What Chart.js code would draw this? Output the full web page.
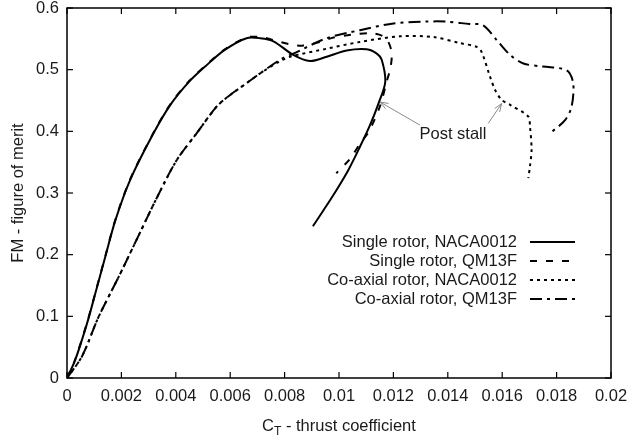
<!DOCTYPE html>
<html>
<head>
<meta charset="utf-8">
<script src="https://cdn.jsdelivr.net/npm/chart.js@4.4.1/dist/chart.umd.min.js"></script>
<style>
  html, body { margin: 0; padding: 0; background: #fff; }
  #wrap { width: 628px; height: 441px; position: relative; }
</style>
</head>
<body>
<div id="wrap"><canvas id="fmChart"></canvas></div>
<script>
// figure of merit vs thrust coefficient
const seriesLabels = ['Single rotor, NACA0012', 'Single rotor, QM13F', 'Co-axial rotor, NACA0012', 'Co-axial rotor, QM13F'];

const singleNacaCt = [0, 0.0003, 0.00074, 0.00104, 0.00141, 0.00178, 0.00232, 0.00317, 0.0038, 0.0045, 0.0051, 0.0058, 0.0066, 0.0071, 0.00759, 0.00832, 0.00893, 0.00955, 0.01028, 0.01102, 0.01139, 0.01157, 0.0117, 0.01145, 0.01114, 0.01077, 0.01034, 0.00991, 0.00943, 0.00904];
const singleNacaFm = [0, 0.029, 0.089, 0.137, 0.197, 0.256, 0.321, 0.396, 0.443, 0.481, 0.506, 0.532, 0.551, 0.551, 0.546, 0.524, 0.514, 0.521, 0.531, 0.533, 0.526, 0.516, 0.48, 0.445, 0.41, 0.375, 0.337, 0.305, 0.272, 0.246];

const singleQmCt = [0, 0.0003, 0.00074, 0.00104, 0.00141, 0.00178, 0.00232, 0.00317, 0.0038, 0.0045, 0.0051, 0.0058, 0.0066, 0.0071, 0.0076, 0.0082, 0.0087, 0.0093, 0.0098, 0.0105, 0.0112, 0.0117, 0.01193, 0.0119, 0.01175, 0.0115, 0.0111, 0.01077, 0.0104, 0.0099];
const singleQmFm = [0, 0.03, 0.09, 0.138, 0.198, 0.257, 0.322, 0.397, 0.444, 0.482, 0.507, 0.533, 0.552, 0.553, 0.548, 0.541, 0.539, 0.545, 0.552, 0.557, 0.559, 0.552, 0.53, 0.505, 0.48, 0.44, 0.4, 0.38, 0.355, 0.332];

const coaxNacaCt = [0, 0.00055, 0.00116, 0.0019, 0.0026, 0.0033, 0.00403, 0.00477, 0.0055, 0.006, 0.0066, 0.0071, 0.0078, 0.0082, 0.00955, 0.01077, 0.01224, 0.01347, 0.01445, 0.01506, 0.01524, 0.01555, 0.01574, 0.01598, 0.01629, 0.01696, 0.01702, 0.01708, 0.01702, 0.01696];
const coaxNacaFm = [0, 0.035, 0.099, 0.164, 0.228, 0.292, 0.353, 0.397, 0.44, 0.459, 0.478, 0.494, 0.513, 0.521, 0.534, 0.545, 0.554, 0.553, 0.543, 0.537, 0.529, 0.489, 0.467, 0.451, 0.443, 0.424, 0.408, 0.37, 0.343, 0.324];

const coaxQmCt = [0, 0.00055, 0.00116, 0.0019, 0.0026, 0.0033, 0.00403, 0.00477, 0.0055, 0.006, 0.0066, 0.0071, 0.0079, 0.00832, 0.00955, 0.01077, 0.012, 0.0132, 0.0139, 0.0148, 0.0153, 0.0158, 0.01629, 0.01678, 0.0175, 0.01837, 0.01861, 0.01855, 0.01831, 0.01782];
const coaxQmFm = [0, 0.035, 0.099, 0.164, 0.228, 0.292, 0.353, 0.397, 0.44, 0.459, 0.478, 0.494, 0.518, 0.526, 0.551, 0.564, 0.575, 0.578, 0.578, 0.574, 0.572, 0.548, 0.524, 0.51, 0.505, 0.499, 0.478, 0.44, 0.418, 0.399];

const xTicks = { min: 0, max: 0.02, step: 0.002 };
const yTicks = { min: 0, max: 0.6, step: 0.1 };

// "Post stall" note: text position and the two arrows (tail -> tip), in data units
const noteText = 'Post stall';
const notePos = [0.01419, 0.395];
const noteArrows = [
  [[0.01298, 0.41], [0.01151, 0.4475]],
  [[0.01549, 0.413], [0.01598, 0.445]]
];

const FONT = '16.5px "Liberation Sans", Arial, sans-serif';
const INK = '#1a1a1a';

function pts(xs, ys) {
  return xs.map((v, i) => ({ x: v, y: ys[i] }));
}

function line(ctx, x1, y1, x2, y2) {
  ctx.beginPath();
  ctx.moveTo(x1, y1);
  ctx.lineTo(x2, y2);
  ctx.stroke();
}

const decor = {
  id: 'decor',
  afterDraw(chart) {
    const { ctx, chartArea: a, scales: { x, y } } = chart;
    ctx.save();
    ctx.setLineDash([]);
    ctx.strokeStyle = '#000';
    ctx.lineWidth = 1.5;
    ctx.strokeRect(a.left, a.top, a.right - a.left, a.bottom - a.top);

    // inward ticks on all four sides
    ctx.lineWidth = 1.2;
    x.ticks.forEach(t => {
      const px = x.getPixelForValue(t.value);
      line(ctx, px, a.bottom, px, a.bottom - 6);
      line(ctx, px, a.top, px, a.top + 6);
    });
    y.ticks.forEach(t => {
      const py = y.getPixelForValue(t.value);
      line(ctx, a.left, py, a.left + 6, py);
      line(ctx, a.right, py, a.right - 6, py);
    });

    // axis titles
    ctx.fillStyle = INK;
    ctx.font = FONT;
    ctx.textBaseline = 'middle';
    ctx.save();
    ctx.translate(18, (a.top + a.bottom) / 2);
    ctx.rotate(-Math.PI / 2);
    ctx.textAlign = 'center';
    ctx.fillText('FM - figure of merit', 0, 0);
    ctx.restore();

    const rest = ' - thrust coefficient';
    ctx.font = FONT;
    const wC = ctx.measureText('C').width;
    const wR = ctx.measureText(rest).width;
    ctx.font = '12px "Liberation Sans", Arial, sans-serif';
    const wT = ctx.measureText('T').width;
    let sx = (a.left + a.right) / 2 - (wC + wT + wR) / 2;
    const ty = 426;
    ctx.textAlign = 'left';
    ctx.font = FONT;
    ctx.fillText('C', sx, ty);
    ctx.font = '12px "Liberation Sans", Arial, sans-serif';
    ctx.fillText('T', sx + wC, ty + 6);
    ctx.font = FONT;
    ctx.fillText(rest, sx + wC + wT, ty);

    // legend, text right aligned, sample on the right
    chart.data.datasets.forEach((ds, i) => {
      const ry = 242 + i * 19;
      ctx.textAlign = 'right';
      ctx.fillStyle = INK;
      ctx.fillText(ds.label, a.right - 94, ry);
      ctx.strokeStyle = '#000';
      ctx.lineWidth = 2;
      ctx.setLineDash(ds.borderDash || []);
      line(ctx, a.right - 81, ry, a.right - 36, ry);
    });
    ctx.setLineDash([]);

    // post stall note, thin gray arrows with open heads
    ctx.strokeStyle = '#8a8a8a';
    ctx.lineWidth = 1;
    noteArrows.forEach(([tail, tip]) => {
      const x1 = x.getPixelForValue(tail[0]), y1 = y.getPixelForValue(tail[1]);
      const x2 = x.getPixelForValue(tip[0]), y2 = y.getPixelForValue(tip[1]);
      line(ctx, x1, y1, x2, y2);
      const ang = Math.atan2(y2 - y1, x2 - x1);
      ctx.beginPath();
      ctx.moveTo(x2 - 8 * Math.cos(ang) + 3 * Math.sin(ang), y2 - 8 * Math.sin(ang) - 3 * Math.cos(ang));
      ctx.lineTo(x2, y2);
      ctx.lineTo(x2 - 8 * Math.cos(ang) - 3 * Math.sin(ang), y2 - 8 * Math.sin(ang) + 3 * Math.cos(ang));
      ctx.stroke();
    });
    ctx.fillStyle = INK;
    ctx.textAlign = 'center';
    ctx.font = FONT;
    ctx.fillText(noteText, x.getPixelForValue(notePos[0]), y.getPixelForValue(notePos[1]));
    ctx.restore();
  }
};

const styles = [[], [7, 9], [3, 4], [12, 5, 3, 5]];
const allData = [
  pts(singleNacaCt, singleNacaFm),
  pts(singleQmCt, singleQmFm),
  pts(coaxNacaCt, coaxNacaFm),
  pts(coaxQmCt, coaxQmFm)
];

const ctx = document.getElementById('fmChart').getContext('2d');
new Chart(ctx, {
  type: 'scatter',
  data: {
    datasets: allData.map((d, i) => ({
      label: seriesLabels[i],
      data: d,
      showLine: true,
      borderColor: '#000',
      borderWidth: 2,
      borderDash: styles[i],
      pointRadius: 0,
      tension: 0.3,
      fill: false
    }))
  },
  options: {
    responsive: true,
    maintainAspectRatio: false,
    animation: false,
    devicePixelRatio: 1,
    layout: { padding: { top: 8, right: 17, left: 0, bottom: 0 } },
    plugins: {
      legend: { display: false },
      tooltip: { enabled: false }
    },
    scales: {
      x: {
        type: 'linear',
        min: xTicks.min,
        max: xTicks.max,
        grid: { display: false, drawTicks: false },
        border: { display: false },
        ticks: {
          stepSize: xTicks.step,
          padding: 9,
          color: INK,
          font: { family: '"Liberation Sans", Arial, sans-serif', size: 16.5 },
          maxRotation: 0,
          callback: v => String(+v.toFixed(4))
        },
        afterFit: s => {
          s.height = 63;
          s.paddingLeft = 0;
          s.paddingRight = 0;
        }
      },
      y: {
        min: yTicks.min,
        max: yTicks.max,
        grid: { display: false, drawTicks: false },
        border: { display: false },
        ticks: {
          stepSize: yTicks.step,
          padding: 8,
          color: INK,
          font: { family: '"Liberation Sans", Arial, sans-serif', size: 16.5 },
          callback: v => String(+v.toFixed(2))
        },
        afterFit: s => {
          s.width = 67;
          s.paddingTop = 0;
          s.paddingBottom = 0;
        }
      }
    }
  },
  plugins: [decor]
});
</script>
</body>
</html>
